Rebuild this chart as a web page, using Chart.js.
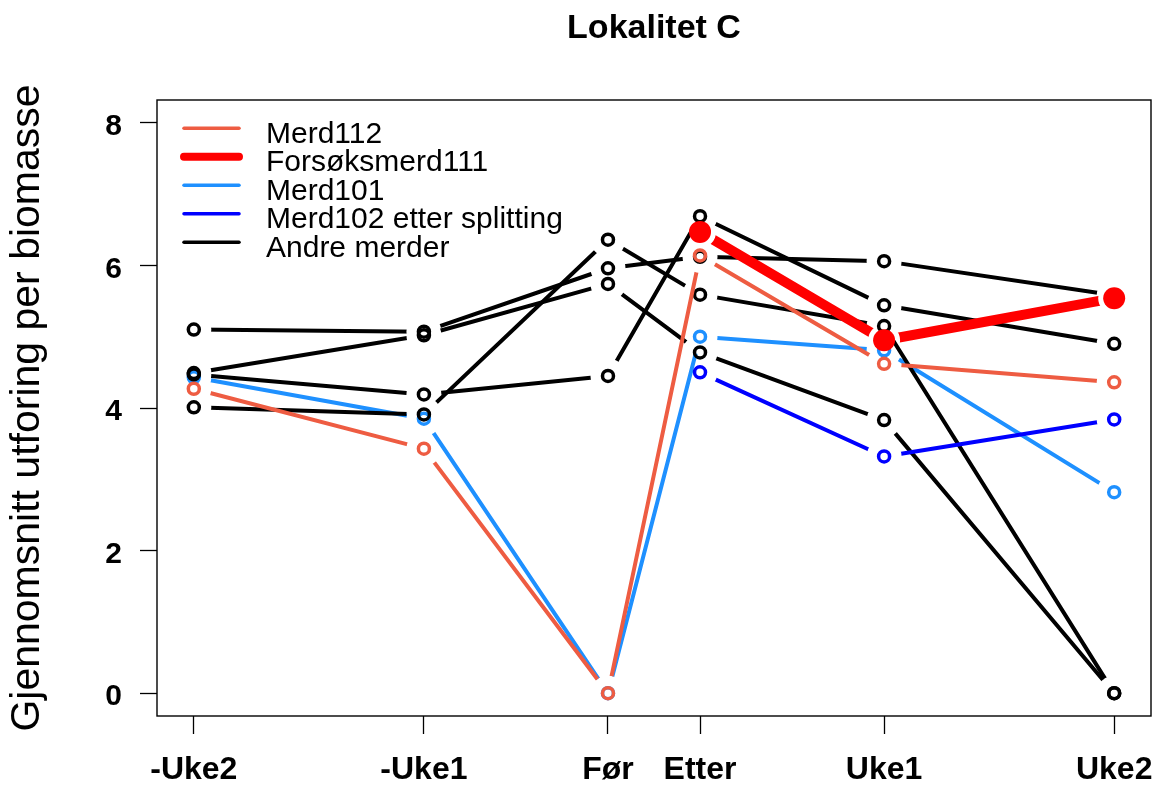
<!DOCTYPE html>
<html>
<head>
<meta charset="utf-8">
<script src="https://cdn.jsdelivr.net/npm/chart.js@4.4.1/dist/chart.umd.min.js"></script>
<style>
html,body{margin:0;padding:0;background:#ffffff;}
#wrap{width:1162px;height:787px;}
</style>
</head>
<body>
<div id="wrap"><canvas id="c" width="1162" height="787"></canvas></div>
<script>
// ---- data ----
const timeLabels = ['-Uke2', '-Uke1', 'Før', 'Etter', 'Uke1', 'Uke2'];
const timeValues = [-2, -1, -0.2, 0.2, 1, 2];
const yTickValues = [0, 2, 4, 6, 8];

const merd112 = [4.27, 3.43, 0, 6.14, 4.62, 4.36];
const forsoksmerd111 = [null, null, null, 6.47, 4.95, 5.54];
const merd101 = [4.43, 3.85, 0, 5.00, 4.81, 2.82];
const merd102 = [null, null, null, 4.50, 3.32, 3.84];
const andreA = [5.10, 5.07, 5.96, 6.12, 6.06, 5.58];
const andreB = [4.49, 5.02, 5.74, 4.78, 3.83, 0];
const andreC = [4.47, 4.19, 4.45, 6.69, 5.44, 4.90];
const andreD = [4.01, 3.91, 6.36, 5.59, 5.15, 0];

const legendLabels = ['Merd112', 'Forsøksmerd111', 'Merd101', 'Merd102 etter splitting', 'Andre merder'];
const chartTitle = 'Lokalitet C';
const yTitle = 'Gjennomsnitt utforing per biomasse';

// ---- styles ----
const C112 = '#EE5C42', CRED = '#FF0000', C101 = '#1E90FF', C102 = '#0000FF', CBLK = '#000000';
const legendColors = [C112, CRED, C101, C102, CBLK];
const legendWidths = [3.5, 8, 3.5, 3.5, 3.5];

// series listed bottom -> top
const series = [
  {values: merd101, color: C101, width: 4, radius: 5.5, filled: false, gap: 17.5},
  {values: andreA, color: CBLK, width: 4, radius: 5.5, filled: false, gap: 17.5},
  {values: andreB, color: CBLK, width: 4, radius: 5.5, filled: false, gap: 17.5},
  {values: andreC, color: CBLK, width: 4, radius: 5.5, filled: false, gap: 17.5},
  {values: andreD, color: CBLK, width: 4, radius: 5.5, filled: false, gap: 17.5},
  {values: merd112, color: C112, width: 4, radius: 5.5, filled: false, gap: 17.5},
  {values: merd102, color: C102, width: 4, radius: 5.5, filled: false, gap: 17.5},
  {values: forsoksmerd111, color: CRED, width: 10, radius: 11, filled: true, gap: 16}
];

function toPoints(vals) {
  const out = [];
  vals.forEach((v, i) => { if (v !== null) out.push({x: timeValues[i], y: v}); });
  return out;
}

const datasets = [];
series.forEach((s, k) => {
  const pts = toPoints(s.values);
  datasets.push({
    type: 'line', data: pts, borderColor: s.color, borderWidth: s.width,
    borderCapStyle: 'round', borderJoinStyle: 'round', pointRadius: 0, pointHoverRadius: 0,
    fill: false, tension: 0, order: 200 - 2 * k, gapRadius: s.gap
  });
  datasets.push({
    type: 'line', data: pts, showLine: false, pointRadius: s.radius, pointHoverRadius: s.radius,
    pointBorderColor: s.color, pointBackgroundColor: s.filled ? s.color : 'rgba(0,0,0,0)',
    pointBorderWidth: s.filled ? 0 : 3.5, borderColor: s.color, order: 200 - 2 * k - 1
  });
});

const FONT = "'Liberation Sans', Arial, Helvetica, sans-serif";
Chart.defaults.font.family = FONT;
Chart.defaults.color = '#000';

// gaps around points (R type="b")
const gapPlugin = {
  id: 'gaps',
  beforeDatasetDraw(chart, args) {
    const ds = chart.data.datasets[args.index];
    if (!ds.gapRadius) return;
    const ctx = chart.ctx;
    ctx.save();
    ctx.beginPath();
    ctx.rect(0, 0, chart.width, chart.height);
    args.meta.data.forEach(el => {
      ctx.moveTo(el.x + ds.gapRadius, el.y);
      ctx.arc(el.x, el.y, ds.gapRadius, 0, Math.PI * 2);
    });
    ctx.clip('evenodd');
  },
  afterDatasetDraw(chart, args) {
    const ds = chart.data.datasets[args.index];
    if (!ds.gapRadius) return;
    chart.ctx.restore();
  }
};

const framePlugin = {
  id: 'frame',
  beforeDatasetsDraw(chart) {
    const {ctx, chartArea: a} = chart;
    ctx.save();
    ctx.strokeStyle = '#000';
    ctx.lineWidth = 1.4;
    ctx.strokeRect(a.left, a.top, a.right - a.left, a.bottom - a.top);
    ctx.restore();
  }
};

const legendPlugin = {
  id: 'rlegend',
  afterDatasetsDraw(chart) {
    const {ctx, chartArea: a} = chart;
    ctx.save();
    ctx.font = '30px ' + FONT;
    ctx.textAlign = 'left';
    ctx.textBaseline = 'alphabetic';
    legendLabels.forEach((t, i) => {
      const y = a.top + 28.3 + i * 28.5;
      ctx.beginPath();
      ctx.strokeStyle = legendColors[i];
      ctx.lineWidth = legendWidths[i];
      ctx.lineCap = 'round';
      ctx.moveTo(a.left + 27, y);
      ctx.lineTo(a.left + 82, y);
      ctx.stroke();
      ctx.fillStyle = '#000';
      ctx.fillText(t, a.left + 109, y + 14.5);
    });
    ctx.restore();
  }
};

new Chart(document.getElementById('c'), {
  type: 'line',
  data: {datasets},
  options: {
    responsive: false,
    animation: false,
    devicePixelRatio: 1,
    events: [],
    layout: {padding: {top: 0, left: 0, right: 8, bottom: 0}},
    plugins: {
      legend: {display: false},
      tooltip: {enabled: false},
      title: {
        display: true, text: chartTitle, fullSize: false, color: '#000',
        font: {size: 34, weight: 'bold', family: FONT},
        padding: {top: 8, bottom: 51.2}
      }
    },
    scales: {
      x: {
        type: 'linear', min: -2.16, max: 2.16,
        afterBuildTicks: (sc) => { sc.ticks = timeValues.map(v => ({value: v})); },
        afterFit: (sc) => { sc.height = 71; sc.paddingLeft = 0; sc.paddingRight = 0; },
        ticks: {
          autoSkip: false, maxRotation: 0, minRotation: 0, padding: 17, color: '#000',
          font: {size: 32, weight: 'bold', family: FONT},
          callback: (v) => { const i = timeValues.indexOf(v); return i >= 0 ? timeLabels[i] : ''; }
        },
        grid: {display: true, drawOnChartArea: false, drawTicks: true, tickLength: 18, tickWidth: 1.3, color: '#000'},
        border: {display: false}
      },
      y: {
        type: 'linear', min: -0.32, max: 8.32,
        afterBuildTicks: (sc) => { sc.ticks = yTickValues.map(v => ({value: v})); },
        afterFit: (sc) => { sc.width = 157; sc.paddingTop = 0; sc.paddingBottom = 0; },
        ticks: {padding: 18, color: '#000', labelOffset: 4, font: {size: 30, weight: 'bold', family: FONT}},
        grid: {display: true, drawOnChartArea: false, drawTicks: true, tickLength: 17, tickWidth: 1.3, color: '#000'},
        border: {display: false},
        title: {display: true, text: yTitle, color: '#000', font: {size: 41, family: FONT}, padding: {top: 3.4, bottom: 0}}
      }
    }
  },
  plugins: [gapPlugin, framePlugin, legendPlugin]
});
</script>
</body>
</html>
